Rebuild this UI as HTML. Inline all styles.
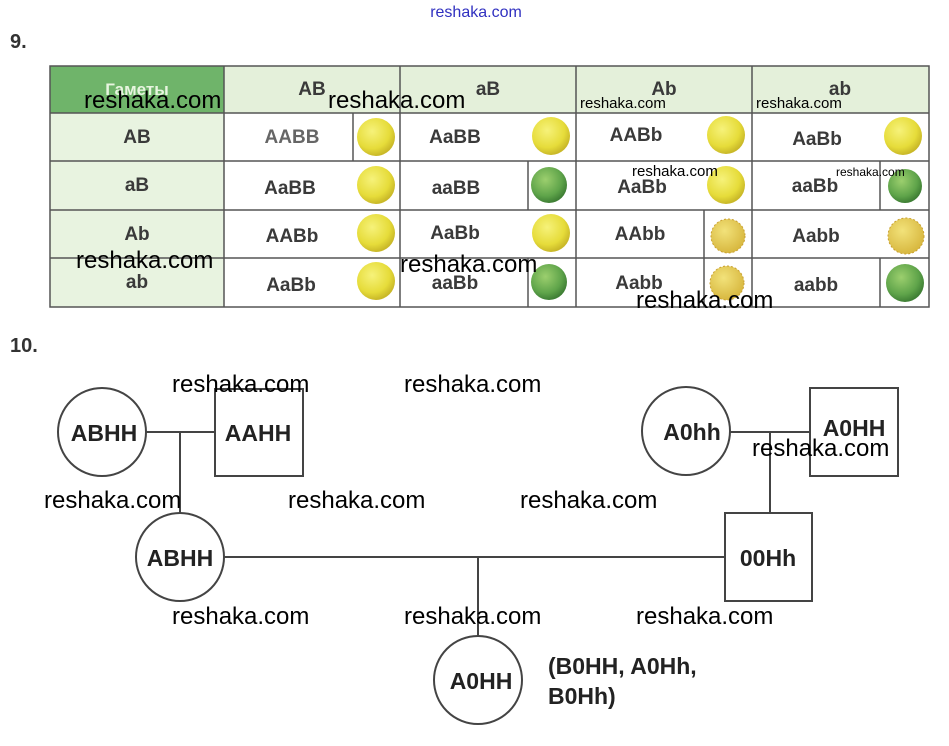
<!DOCTYPE html>
<html><head><meta charset="utf-8"><style>
html,body{margin:0;padding:0;background:#fff;}
svg{display:block;}
.g{font-family:"Liberation Sans",sans-serif;font-weight:bold;font-size:19px;fill:#3a3a3a;text-anchor:middle;}
.w{font-family:"Liberation Sans",sans-serif;font-size:24px;fill:#000;}
.p{font-family:"Liberation Sans",sans-serif;font-weight:bold;font-size:23px;fill:#222;text-anchor:middle;}
</style></head><body>
<svg width="949" height="746" viewBox="0 0 949 746" xmlns="http://www.w3.org/2000/svg">
<text x="476" y="17" font-family="Liberation Sans,sans-serif" font-size="16" fill="#3030c0" text-anchor="middle">reshaka.com</text>
<text x="10" y="48" font-family="Liberation Sans,sans-serif" font-weight="bold" font-size="20" fill="#333">9.</text>
<text x="10" y="352" font-family="Liberation Sans,sans-serif" font-weight="bold" font-size="20" fill="#333">10.</text>

<!-- table -->
<rect x="50" y="66" width="879" height="47" fill="#e4f0da"/>
<rect x="50" y="113" width="174" height="194" fill="#e8f3e0"/>
<rect x="50" y="66" width="174" height="47" fill="#6fb46a"/>
<text x="137" y="95" font-family="Liberation Sans,sans-serif" font-weight="bold" font-size="17" fill="#e8f5e0" text-anchor="middle">Гаметы</text>
<g stroke="#555" stroke-width="1.5" fill="none">
<rect x="50" y="66" width="879" height="241"/>
<line x1="224" y1="66" x2="224" y2="307"/>
<line x1="400" y1="66" x2="400" y2="307"/>
<line x1="576" y1="66" x2="576" y2="307"/>
<line x1="752" y1="66" x2="752" y2="307"/>
<line x1="50" y1="113" x2="929" y2="113"/>
<line x1="50" y1="161" x2="929" y2="161"/>
<line x1="50" y1="210" x2="929" y2="210"/>
<line x1="50" y1="258" x2="929" y2="258"/>
<line x1="353" y1="113" x2="353" y2="161"/>
<line x1="528" y1="161" x2="528" y2="210"/>
<line x1="880" y1="161" x2="880" y2="210"/>
<line x1="704" y1="210" x2="704" y2="307"/>
<line x1="528" y1="258" x2="528" y2="307"/>
<line x1="880" y1="258" x2="880" y2="307"/>
</g>
<g class="g">
<text x="312" y="95">AB</text><text x="488" y="95">aB</text><text x="664" y="95">Ab</text><text x="840" y="95">ab</text>
<text x="137" y="143">AB</text><text x="137" y="191">aB</text><text x="137" y="240">Ab</text><text x="137" y="288">ab</text>
<text x="292" y="143" fill="#666">AABB</text><text x="455" y="143">AaBB</text><text x="636" y="141">AABb</text><text x="817" y="145">AaBb</text>
<text x="290" y="194">AaBB</text><text x="456" y="194">aaBB</text><text x="642" y="193">AaBb</text><text x="815" y="192">aaBb</text>
<text x="292" y="242">AABb</text><text x="455" y="239">AaBb</text><text x="640" y="240">AAbb</text><text x="816" y="242">Aabb</text>
<text x="291" y="291">AaBb</text><text x="455" y="289">aaBb</text><text x="639" y="289">Aabb</text><text x="816" y="291">aabb</text>
</g>
<defs>
<radialGradient id="y" cx="40%" cy="35%" r="65%"><stop offset="0" stop-color="#f6f27a"/><stop offset="0.7" stop-color="#e6dc3a"/><stop offset="1" stop-color="#c9b828"/></radialGradient>
<radialGradient id="gr" cx="40%" cy="35%" r="65%"><stop offset="0" stop-color="#9ccf6e"/><stop offset="0.7" stop-color="#5fa44a"/><stop offset="1" stop-color="#3f7f35"/></radialGradient>
<radialGradient id="wr" cx="40%" cy="35%" r="65%"><stop offset="0" stop-color="#f2e27a"/><stop offset="1" stop-color="#d8b840"/></radialGradient>
</defs>
<g>
<circle cx="376" cy="137" r="19" fill="url(#y)"/><circle cx="551" cy="136" r="19" fill="url(#y)"/><circle cx="726" cy="135" r="19" fill="url(#y)"/><circle cx="903" cy="136" r="19" fill="url(#y)"/>
<circle cx="376" cy="185" r="19" fill="url(#y)"/><circle cx="549" cy="185" r="18" fill="url(#gr)"/><circle cx="726" cy="185" r="19" fill="url(#y)"/><circle cx="905" cy="186" r="17" fill="url(#gr)"/>
<circle cx="376" cy="233" r="19" fill="url(#y)"/><circle cx="551" cy="233" r="19" fill="url(#y)"/><circle cx="728" cy="236" r="17" fill="url(#wr)" stroke="#c9a030" stroke-dasharray="2 2"/><circle cx="906" cy="236" r="18" fill="url(#wr)" stroke="#c9a030" stroke-dasharray="2 2"/>
<circle cx="376" cy="281" r="19" fill="url(#y)"/><circle cx="549" cy="282" r="18" fill="url(#gr)"/><circle cx="727" cy="283" r="17" fill="url(#wr)" stroke="#c9a030" stroke-dasharray="2 2"/><circle cx="905" cy="283" r="19" fill="url(#gr)"/>
</g>

<!-- pedigree -->
<g stroke="#444" stroke-width="2" fill="none">
<circle cx="102" cy="432" r="44"/>
<rect x="215" y="389" width="88" height="87"/>
<line x1="146" y1="432" x2="215" y2="432"/>
<line x1="180" y1="432" x2="180" y2="513"/>
<circle cx="180" cy="557" r="44"/>
<circle cx="686" cy="431" r="44"/>
<rect x="810" y="388" width="88" height="88"/>
<line x1="730" y1="432" x2="810" y2="432"/>
<line x1="770" y1="432" x2="770" y2="513"/>
<rect x="725" y="513" width="87" height="88"/>
<line x1="224" y1="557" x2="725" y2="557"/>
<line x1="478" y1="557" x2="478" y2="636"/>
<circle cx="478" cy="680" r="44"/>
</g>
<g class="p">
<text x="104" y="441">ABHH</text><text x="258" y="441">AAHH</text>
<text x="180" y="566">ABHH</text><text x="692" y="440">A0hh</text>
<text x="854" y="436">A0HH</text><text x="768" y="566">00Hh</text>
<text x="481" y="689">A0HH</text>
</g>
<text x="548" y="674" font-family="Liberation Sans,sans-serif" font-weight="bold" font-size="23" fill="#222">(B0HH, A0Hh,</text>
<text x="548" y="704" font-family="Liberation Sans,sans-serif" font-weight="bold" font-size="23" fill="#222">B0Hh)</text>

<!-- watermarks -->
<g class="w">
<text x="84" y="108">reshaka.com</text><text x="328" y="108">reshaka.com</text>
<text x="580" y="108" font-size="15">reshaka.com</text><text x="756" y="108" font-size="15">reshaka.com</text>
<text x="632" y="176" font-size="15">reshaka.com</text><text x="836" y="176" font-size="12">reshaka.com</text>
<text x="76" y="268">reshaka.com</text><text x="400" y="272">reshaka.com</text><text x="636" y="308">reshaka.com</text>
<text x="172" y="392">reshaka.com</text><text x="404" y="392">reshaka.com</text>
<text x="752" y="456">reshaka.com</text>
<text x="44" y="508">reshaka.com</text><text x="288" y="508">reshaka.com</text><text x="520" y="508">reshaka.com</text>
<text x="172" y="624">reshaka.com</text><text x="404" y="624">reshaka.com</text><text x="636" y="624">reshaka.com</text>
</g>
</svg>
</body></html>
